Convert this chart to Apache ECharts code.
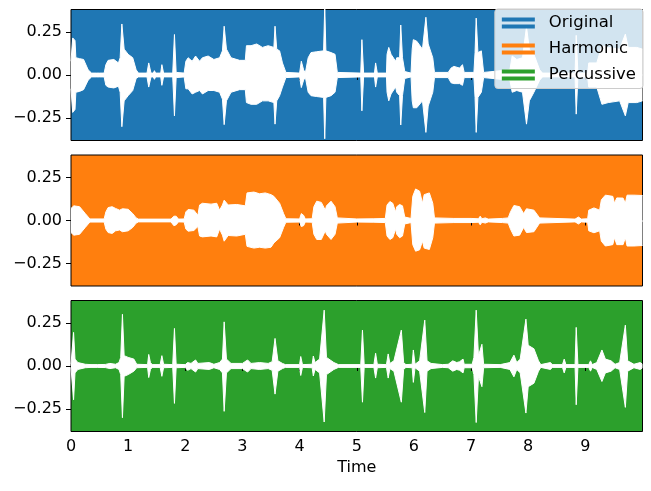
<!DOCTYPE html>
<html>
<head>
<meta charset="utf-8">
<script src="https://cdn.jsdelivr.net/npm/echarts@6/dist/echarts.min.js"></script>
<style>
  html, body { margin: 0; padding: 0; background: #fff; }
  #chart { width: 651px; height: 491px; }
</style>
</head>
<body>
<div id="chart"></div>
<script>
// envelope points: [time (s), upper, lower]
const original = [
  [0.0, 0.08, -0.08], [0.03, 0.215, -0.217], [0.07, 0.2, -0.2], [0.085, 0.1, -0.1], [0.15, 0.095, -0.095],
  [0.22, 0.09, -0.085], [0.3, 0.03, -0.03], [0.36, 0.011, -0.011], [0.45, 0.011, -0.011], [0.47, 0.022, -0.022],
  [0.5, 0.011, -0.011], [0.58, 0.011, -0.011], [0.61, 0.06, -0.06], [0.65, 0.085, -0.07], [0.75, 0.09, -0.075],
  [0.83, 0.07, -0.065], [0.86, 0.1, -0.1], [0.89, 0.296, -0.3], [0.93, 0.15, -0.15], [1.0, 0.12, -0.12],
  [1.08, 0.1, -0.09], [1.14, 0.03, -0.02], [1.18, 0.011, -0.011], [1.33, 0.011, -0.011], [1.36, 0.07, -0.07],
  [1.4, 0.011, -0.011], [1.44, 0.011, -0.011], [1.46, 0.025, -0.025], [1.48, 0.011, -0.011], [1.57, 0.011, -0.011],
  [1.59, 0.06, -0.06], [1.62, 0.011, -0.011], [1.78, 0.011, -0.011], [1.81, 0.235, -0.237], [1.84, 0.015, -0.015],
  [1.98, 0.011, -0.011], [2.01, 0.08, -0.08], [2.05, 0.1, -0.08], [2.12, 0.08, -0.11], [2.18, 0.11, -0.1],
  [2.25, 0.08, -0.09], [2.3, 0.1, -0.11], [2.4, 0.11, -0.09], [2.5, 0.09, -0.09], [2.6, 0.1, -0.1],
  [2.65, 0.14, -0.14], [2.68, 0.283, -0.288], [2.72, 0.15, -0.15], [2.8, 0.1, -0.1], [2.95, 0.085, -0.085],
  [3.05, 0.085, -0.085], [3.07, 0.17, -0.16], [3.15, 0.17, -0.17], [3.25, 0.18, -0.17], [3.35, 0.16, -0.15],
  [3.45, 0.17, -0.15], [3.55, 0.16, -0.16], [3.57, 0.283, -0.285], [3.6, 0.15, -0.15], [3.65, 0.14, -0.12],
  [3.7, 0.07, -0.07], [3.76, 0.015, -0.015], [4.0, 0.011, -0.011], [4.03, 0.08, -0.073], [4.07, 0.03, -0.03],
  [4.1, 0.011, -0.011], [4.13, 0.011, -0.011], [4.15, 0.1, -0.1], [4.2, 0.13, -0.12], [4.3, 0.135, -0.125],
  [4.42, 0.14, -0.13], [4.44, 0.4, -0.37], [4.46, 0.14, -0.13], [4.55, 0.13, -0.12], [4.62, 0.12, -0.1],
  [4.66, 0.015, -0.015], [5.07, 0.011, -0.011], [5.09, 0.205, -0.208], [5.12, 0.011, -0.011], [5.31, 0.011, -0.011],
  [5.33, 0.07, -0.07], [5.36, 0.011, -0.011], [5.52, 0.011, -0.011], [5.53, 0.12, -0.1], [5.56, 0.16, -0.15],
  [5.6, 0.12, -0.11], [5.68, 0.08, -0.07], [5.7, 0.1, -0.1], [5.75, 0.1, -0.12], [5.77, 0.29, -0.29],
  [5.8, 0.1, -0.12], [5.84, 0.02, -0.02], [5.95, 0.011, -0.011], [5.97, 0.15, -0.15], [5.99, 0.205, -0.19],
  [6.05, 0.196, -0.19], [6.15, 0.15, -0.15], [6.21, 0.335, -0.333], [6.25, 0.18, -0.18], [6.33, 0.1, -0.1],
  [6.36, 0.015, -0.015], [6.6, 0.015, -0.015], [6.65, 0.04, -0.045], [6.7, 0.05, -0.05], [6.8, 0.04, -0.05],
  [6.85, 0.06, -0.06], [6.88, 0.015, -0.015], [7.05, 0.015, -0.015], [7.07, 0.13, -0.13], [7.09, 0.33, -0.333],
  [7.12, 0.13, -0.13], [7.18, 0.14, -0.1], [7.22, 0.015, -0.015], [7.68, 0.03, -0.03], [7.72, 0.11, -0.1],
  [7.8, 0.09, -0.09], [7.9, 0.1, -0.1], [7.97, 0.28, -0.285], [8.02, 0.15, -0.15], [8.1, 0.12, -0.1],
  [8.2, 0.03, -0.03], [8.25, 0.011, -0.011], [8.82, 0.011, -0.011], [8.84, 0.23, -0.227], [8.87, 0.011, -0.011],
  [9.04, 0.011, -0.011], [9.06, 0.07, -0.07], [9.2, 0.07, -0.07], [9.29, 0.17, -0.17], [9.4, 0.16, -0.16],
  [9.6, 0.15, -0.15], [9.7, 0.237, -0.237], [9.75, 0.16, -0.16], [9.9, 0.16, -0.16], [10.0, 0.15, -0.15]
];

const harmonic = [
  [0.0, 0.07, -0.07], [0.05, 0.085, -0.085], [0.15, 0.08, -0.08], [0.25, 0.04, -0.04], [0.33, 0.009, -0.009],
  [0.58, 0.009, -0.009], [0.61, 0.05, -0.05], [0.65, 0.075, -0.07], [0.72, 0.08, -0.075], [0.78, 0.07, -0.06],
  [0.85, 0.06, -0.055], [0.9, 0.068, -0.065], [1.0, 0.065, -0.06], [1.08, 0.04, -0.04], [1.14, 0.015, -0.015],
  [1.18, 0.008, -0.008], [1.75, 0.008, -0.008], [1.8, 0.025, -0.03], [1.84, 0.025, -0.025], [1.88, 0.008, -0.008],
  [1.98, 0.009, -0.009], [2.01, 0.05, -0.05], [2.05, 0.064, -0.062], [2.15, 0.06, -0.058], [2.22, 0.03, -0.035],
  [2.25, 0.09, -0.09], [2.3, 0.1, -0.095], [2.45, 0.095, -0.09], [2.55, 0.1, -0.095], [2.6, 0.06, -0.05],
  [2.65, 0.09, -0.085], [2.68, 0.118, -0.12], [2.75, 0.09, -0.087], [2.9, 0.093, -0.09], [3.05, 0.085, -0.08],
  [3.08, 0.16, -0.15], [3.2, 0.165, -0.16], [3.3, 0.155, -0.155], [3.4, 0.16, -0.16], [3.5, 0.15, -0.155],
  [3.55, 0.14, -0.13], [3.65, 0.1, -0.1], [3.72, 0.04, -0.04], [3.76, 0.01, -0.01], [4.0, 0.009, -0.009],
  [4.03, 0.04, -0.035], [4.07, 0.03, -0.03], [4.1, 0.009, -0.009], [4.22, 0.01, -0.01], [4.25, 0.08, -0.08],
  [4.3, 0.112, -0.11], [4.38, 0.105, -0.11], [4.45, 0.06, -0.06], [4.47, 0.085, -0.08], [4.55, 0.112, -0.11],
  [4.62, 0.08, -0.08], [4.66, 0.015, -0.015], [5.0, 0.009, -0.009], [5.3, 0.01, -0.01], [5.5, 0.012, -0.012],
  [5.53, 0.09, -0.09], [5.58, 0.11, -0.11], [5.63, 0.1, -0.1], [5.68, 0.05, -0.05], [5.7, 0.08, -0.08],
  [5.75, 0.093, -0.1], [5.8, 0.085, -0.09], [5.84, 0.02, -0.02], [5.95, 0.012, -0.012], [5.98, 0.14, -0.14],
  [6.03, 0.183, -0.178], [6.1, 0.17, -0.17], [6.15, 0.1, -0.12], [6.18, 0.15, -0.16], [6.27, 0.16, -0.168],
  [6.33, 0.1, -0.1], [6.36, 0.015, -0.015], [6.7, 0.012, -0.012], [7.0, 0.012, -0.012], [7.13, 0.01, -0.01],
  [7.16, 0.025, -0.025], [7.19, 0.01, -0.01], [7.25, 0.015, -0.015], [7.3, 0.008, -0.008], [7.55, 0.012, -0.012],
  [7.65, 0.015, -0.015], [7.69, 0.05, -0.05], [7.75, 0.087, -0.09], [7.85, 0.08, -0.085], [7.92, 0.04, -0.04],
  [7.97, 0.068, -0.07], [8.1, 0.06, -0.065], [8.2, 0.015, -0.015], [8.22, 0.008, -0.008], [8.82, 0.008, -0.008],
  [8.88, 0.02, -0.02], [8.93, 0.008, -0.008], [9.04, 0.01, -0.01], [9.06, 0.06, -0.06], [9.15, 0.073, -0.071],
  [9.25, 0.06, -0.06], [9.28, 0.12, -0.12], [9.35, 0.147, -0.148], [9.48, 0.14, -0.14], [9.51, 0.1, -0.1],
  [9.55, 0.131, -0.14], [9.66, 0.13, -0.14], [9.7, 0.1, -0.1], [9.73, 0.147, -0.148], [9.85, 0.147, -0.148],
  [10.0, 0.145, -0.145]
];

const percussive = [
  [0.0, 0.01, -0.01], [0.03, 0.02, -0.02], [0.045, 0.195, -0.196], [0.07, 0.04, -0.04], [0.12, 0.02, -0.02],
  [0.25, 0.01, -0.01], [0.35, 0.008, -0.008], [0.46, 0.008, -0.008], [0.47, 0.015, -0.015], [0.49, 0.008, -0.008],
  [0.6, 0.009, -0.009], [0.68, 0.015, -0.015], [0.78, 0.01, -0.01], [0.84, 0.02, -0.02], [0.87, 0.05, -0.05],
  [0.9, 0.3, -0.3], [0.93, 0.06, -0.06], [1.0, 0.05, -0.05], [1.1, 0.04, -0.03], [1.15, 0.01, -0.01],
  [1.34, 0.008, -0.008], [1.36, 0.067, -0.067], [1.39, 0.02, -0.02], [1.42, 0.008, -0.008], [1.56, 0.008, -0.008],
  [1.59, 0.06, -0.06], [1.62, 0.01, -0.01], [1.78, 0.008, -0.008], [1.81, 0.218, -0.217], [1.84, 0.01, -0.01],
  [2.0, 0.008, -0.008], [2.04, 0.02, -0.025], [2.1, 0.015, -0.015], [2.18, 0.035, -0.035], [2.22, 0.015, -0.015],
  [2.42, 0.02, -0.02], [2.5, 0.01, -0.01], [2.6, 0.02, -0.02], [2.65, 0.04, -0.04], [2.68, 0.256, -0.263],
  [2.72, 0.04, -0.04], [2.8, 0.015, -0.015], [3.0, 0.015, -0.015], [3.09, 0.035, -0.035], [3.15, 0.015, -0.015],
  [3.3, 0.02, -0.02], [3.45, 0.015, -0.015], [3.52, 0.025, -0.025], [3.57, 0.16, -0.163], [3.62, 0.03, -0.03],
  [3.7, 0.015, -0.015], [3.75, 0.008, -0.008], [4.0, 0.008, -0.008], [4.02, 0.055, -0.055], [4.05, 0.008, -0.008],
  [4.22, 0.01, -0.01], [4.24, 0.058, -0.058], [4.27, 0.02, -0.02], [4.35, 0.04, -0.04], [4.43, 0.324, -0.325],
  [4.47, 0.05, -0.05], [4.6, 0.02, -0.02], [4.68, 0.008, -0.008], [5.07, 0.008, -0.008], [5.1, 0.208, -0.21],
  [5.13, 0.008, -0.008], [5.3, 0.008, -0.008], [5.33, 0.074, -0.07], [5.36, 0.01, -0.01], [5.52, 0.008, -0.008],
  [5.55, 0.07, -0.07], [5.58, 0.015, -0.015], [5.65, 0.03, -0.03], [5.78, 0.208, -0.21], [5.82, 0.02, -0.02],
  [5.86, 0.008, -0.008], [5.97, 0.01, -0.01], [5.99, 0.093, -0.095], [6.02, 0.01, -0.01], [6.1, 0.03, -0.03],
  [6.19, 0.266, -0.27], [6.23, 0.03, -0.03], [6.3, 0.015, -0.015], [6.5, 0.008, -0.008], [6.6, 0.01, -0.01],
  [6.68, 0.03, -0.03], [6.75, 0.02, -0.02], [6.8, 0.025, -0.025], [6.86, 0.04, -0.04], [6.88, 0.01, -0.01],
  [7.02, 0.01, -0.01], [7.05, 0.05, -0.05], [7.09, 0.324, -0.328], [7.13, 0.06, -0.06], [7.19, 0.126, -0.12],
  [7.22, 0.01, -0.01], [7.51, 0.008, -0.008], [7.52, 0.015, -0.015], [7.54, 0.008, -0.008], [7.68, 0.02, -0.02],
  [7.75, 0.063, -0.063], [7.8, 0.02, -0.02], [7.86, 0.04, -0.04], [7.96, 0.272, -0.273], [8.0, 0.12, -0.12],
  [8.1, 0.1, -0.1], [8.18, 0.03, -0.03], [8.22, 0.008, -0.008], [8.39, 0.02, -0.02], [8.42, 0.008, -0.008],
  [8.6, 0.008, -0.008], [8.63, 0.04, -0.04], [8.66, 0.008, -0.008], [8.82, 0.008, -0.008], [8.84, 0.224, -0.225],
  [8.87, 0.008, -0.008], [9.06, 0.008, -0.008], [9.09, 0.03, -0.03], [9.12, 0.008, -0.008], [9.2, 0.02, -0.02],
  [9.29, 0.093, -0.09], [9.35, 0.04, -0.04], [9.45, 0.03, -0.03], [9.52, 0.01, -0.01], [9.6, 0.02, -0.02],
  [9.7, 0.237, -0.24], [9.74, 0.03, -0.03], [9.85, 0.01, -0.01], [9.96, 0.02, -0.02], [10.0, 0.01, -0.01]
];

const names = ['Original', 'Harmonic', 'Percussive'];
const colors = ['#1f77b4', '#ff7f0e', '#2ca02c'];
const xTicks = [0, 1, 2, 3, 4, 5, 6, 7, 8, 9];
const yTicks = [-0.25, 0, 0.25];

const font = '"DejaVu Sans", sans-serif';
const chart = echarts.init(document.getElementById('chart'), null, { renderer: 'canvas' });

const panels = [original, harmonic, percussive];
const tops = [9.5, 155, 300.5];

const grid = [], xAxis = [], yAxis = [], series = [];
panels.forEach((env, i) => {
  grid.push({
    left: 71, right: 8.5, top: tops[i], height: 131,
    show: true, backgroundColor: colors[i], borderColor: '#000', borderWidth: 1
  });
  xAxis.push({
    type: 'value', gridIndex: i, min: 0, max: 10,
    axisLine: { show: false },
    axisTick: { show: true, length: 5, lineStyle: { color: '#000' }, customValues: xTicks },
    axisLabel: {
      show: i === 2, customValues: xTicks, margin: 7,
      color: '#000', fontFamily: font, fontSize: 16
    },
    splitLine: { show: false },
    name: i === 2 ? 'Time' : '',
    nameLocation: 'middle', nameGap: 28,
    nameTextStyle: { color: '#000', fontFamily: font, fontSize: 16 }
  });
  yAxis.push({
    type: 'value', gridIndex: i, min: -0.38, max: 0.38,
    axisLine: { show: false },
    axisTick: { show: true, length: 5, lineStyle: { color: '#000' }, customValues: yTicks },
    axisLabel: {
      customValues: yTicks, margin: 9, color: '#000', fontFamily: font, fontSize: 16,
      formatter: v => (v < 0 ? '\u2212' : '') + Math.abs(v).toFixed(2)
    },
    splitLine: { show: false }
  });
  // upper and lower envelope, each filled to zero in white
  [1, 2].forEach(k => {
    const s = {
      type: 'line', name: names[i], xAxisIndex: i, yAxisIndex: i,
      data: env.map(p => [p[0], p[k]]),
      symbol: 'none', silent: true,
      itemStyle: { color: colors[i] },
      lineStyle: { color: '#fff', width: 1 },
      areaStyle: { color: '#fff', opacity: 1, origin: 'auto' }
    };
    if (k === 2) {
      // hide the anti-aliasing seam where the two fills meet at zero
      s.markLine = {
        silent: true, symbol: 'none', label: { show: false },
        lineStyle: { color: '#fff', width: 2, type: 'solid' },
        data: [{ yAxis: 0 }]
      };
    }
    series.push(s);
  });
});

chart.setOption({
  animation: false,
  backgroundColor: '#fff',
  grid, xAxis, yAxis, series,
  legend: {
    z: 20,
    orient: 'vertical', right: 8, top: 9,
    selectedMode: false,
    icon: 'path://M0,0H33V4H0Z M0,7H33V11H0Z',
    itemWidth: 33, itemHeight: 11, itemGap: 9,
    padding: [5.5, 7, 5, 7],
    backgroundColor: 'rgba(255,255,255,0.8)',
    borderColor: '#cccccc', borderWidth: 1, borderRadius: 3,
    textStyle: { color: '#000', fontFamily: font, fontSize: 16.5, lineHeight: 16, padding: [0, 0, 0, 9] },
    data: names.map((n, i) => ({ name: n, itemStyle: { color: colors[i], borderWidth: 0 } }))
  }
});
</script>
</body>
</html>
